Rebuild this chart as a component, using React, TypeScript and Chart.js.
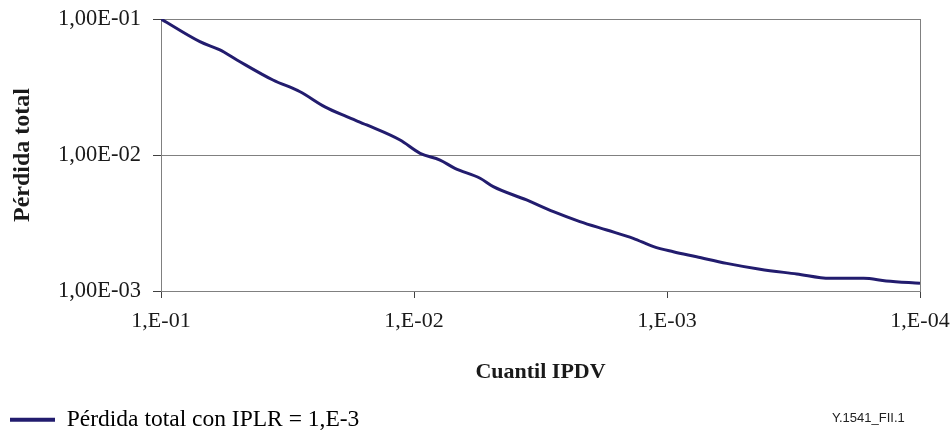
import React, { useEffect, useRef } from 'react';
import { Chart, registerables } from 'chart.js';

Chart.register(...registerables);

// IPDV quantile (x) and total loss (y)
const quantiles = [
  0.1, 0.0702, 0.0585, 0.0501, 0.0361, 0.0282, 0.0225, 0.01845, 0.01538, 0.01135,
  0.00946, 0.00789, 0.00689, 0.00548, 0.00486, 0.00359, 0.00281, 0.00221, 0.00173, 0.00136,
  0.00113, 0.000944, 0.000764, 0.000581, 0.000429, 0.000307, 0.000227, 0.000167, 0.000136, 0.0001,
];
const losses = [
  0.1, 0.0681, 0.0592, 0.05, 0.0356, 0.0292, 0.0226, 0.01914, 0.01663, 0.01288,
  0.01028, 0.00918, 0.00798, 0.00675, 0.00585, 0.00467, 0.00383, 0.00324, 0.00281, 0.00244,
  0.00212, 0.001945, 0.001786, 0.001596, 0.001445, 0.001334, 0.001239, 0.001239, 0.001186, 0.00114,
];

const xTickValues = [1e-1, 1e-2, 1e-3, 1e-4];
const xTickLabels = ['1,E-01', '1,E-02', '1,E-03', '1,E-04'];
const yTickValues = [1e-3, 1e-2, 1e-1];
const yTickLabels = ['1,00E-03', '1,00E-02', '1,00E-01'];

const seriesLabel = 'Pérdida total con IPLR = 1,E-3';
const xTitle = 'Cuantil IPDV';
const yTitle = 'Pérdida total';
const figureId = 'Y.1541_FII.1';

const LINE_COLOR = '#221c6e';
const GRID_COLOR = '#808080';
const TEXT_COLOR = '#1a1a1a';
const SERIF = '"Liberation Serif", "Times New Roman", Times, serif';

function labelFor(value: number, values: number[], labels: string[]): string {
  const lv = Math.log10(value);
  for (let i = 0; i < values.length; i++) {
    if (Math.abs(Math.log10(values[i]) - lv) < 1e-6) return labels[i];
  }
  return '';
}

const figureIdPlugin = {
  id: 'figureId',
  afterDraw(chart: any) {
    const ctx = chart.ctx;
    ctx.save();
    ctx.font = '13px "Liberation Sans", Arial, sans-serif';
    ctx.fillStyle = '#222';
    ctx.textAlign = 'left';
    ctx.textBaseline = 'alphabetic';
    ctx.fillText(figureId, chart.chartArea.right - 88, 422);
    ctx.restore();
  },
};

export default function App() {
  const canvasRef = useRef<HTMLCanvasElement | null>(null);

  useEffect(() => {
    if (!canvasRef.current) return;
    const data = quantiles.map((q, i) => ({ x: q, y: losses[i] }));
    const chart = new Chart(canvasRef.current, {
      type: 'line',
      data: {
        datasets: [
          {
            label: seriesLabel,
            data,
            borderColor: LINE_COLOR,
            backgroundColor: LINE_COLOR,
            borderWidth: 3,
            pointRadius: 0,
            cubicInterpolationMode: 'monotone',
            fill: false,
          },
        ],
      },
      options: {
        animation: false,
        responsive: false,
        devicePixelRatio: 1,
        layout: { padding: { left: 10, right: 31, top: 19, bottom: 0 } },
        plugins: {
          tooltip: { enabled: false },
          legend: {
            display: true,
            position: 'bottom',
            align: 'start',
            maxHeight: 22,
            labels: {
              boxWidth: 45,
              boxHeight: 4,
              padding: 0,
              color: TEXT_COLOR,
              font: { family: SERIF, size: 23.5 },
              generateLabels: () => [
                {
                  text: seriesLabel,
                  fillStyle: LINE_COLOR,
                  strokeStyle: LINE_COLOR,
                  lineWidth: 0,
                  hidden: false,
                  datasetIndex: 0,
                },
              ],
            },
          },
        },
        scales: {
          x: {
            type: 'logarithmic',
            reverse: true,
            min: 1e-4,
            max: 1e-1,
            afterBuildTicks: (scale: any) => {
              scale.ticks = xTickValues.map((v) => ({ value: v }));
            },
            afterFit: (scale: any) => {
              scale.height = 117;
              scale.paddingLeft = 0;
              scale.paddingRight = 0;
            },
            ticks: {
              autoSkip: false,
              maxRotation: 0,
              padding: 10,
              color: TEXT_COLOR,
              font: { family: SERIF, size: 22 },
              callback: (v: any) => labelFor(Number(v), xTickValues, xTickLabels),
            },
            grid: {
              drawOnChartArea: true,
              drawTicks: true,
              tickLength: 7,
              tickColor: '#404040',
              color: (ctx: any) =>
                ctx.tick && Math.abs(Math.log10(ctx.tick.value) + 4) < 1e-6 ? GRID_COLOR : 'rgba(0,0,0,0)',
              lineWidth: 1,
            },
            border: { display: true, color: GRID_COLOR, width: 1 },
            title: {
              display: true,
              text: xTitle,
              color: TEXT_COLOR,
              font: { family: SERIF, size: 22, weight: 'bold' },
              padding: { top: 0, bottom: 22 },
            },
          },
          y: {
            type: 'logarithmic',
            min: 1e-3,
            max: 1e-1,
            afterBuildTicks: (scale: any) => {
              scale.ticks = yTickValues.map((v) => ({ value: v }));
            },
            afterFit: (scale: any) => {
              scale.width = 151;
              scale.paddingTop = 0;
              scale.paddingBottom = 0;
            },
            ticks: {
              autoSkip: false,
              padding: 12,
              color: TEXT_COLOR,
              font: { family: SERIF, size: 22.5 },
              callback: (v: any) => labelFor(Number(v), yTickValues, yTickLabels),
            },
            grid: {
              drawOnChartArea: true,
              drawTicks: true,
              tickLength: 8,
              tickColor: '#404040',
              color: GRID_COLOR,
              lineWidth: 1,
            },
            border: { display: true, color: GRID_COLOR, width: 1 },
            title: {
              display: true,
              text: yTitle,
              color: TEXT_COLOR,
              font: { family: SERIF, size: 24, weight: 'bold' },
              padding: { top: -2, bottom: 0 },
            },
          },
        },
      },
      plugins: [figureIdPlugin],
    } as any);
    return () => chart.destroy();
  }, []);

  return (
    <div style={{ position: 'fixed', left: 0, top: 0, width: 951, height: 430, background: '#fff' }}>
      <canvas ref={canvasRef} width={951} height={430} style={{ display: 'block', width: 951, height: 430 }} />
    </div>
  );
}
